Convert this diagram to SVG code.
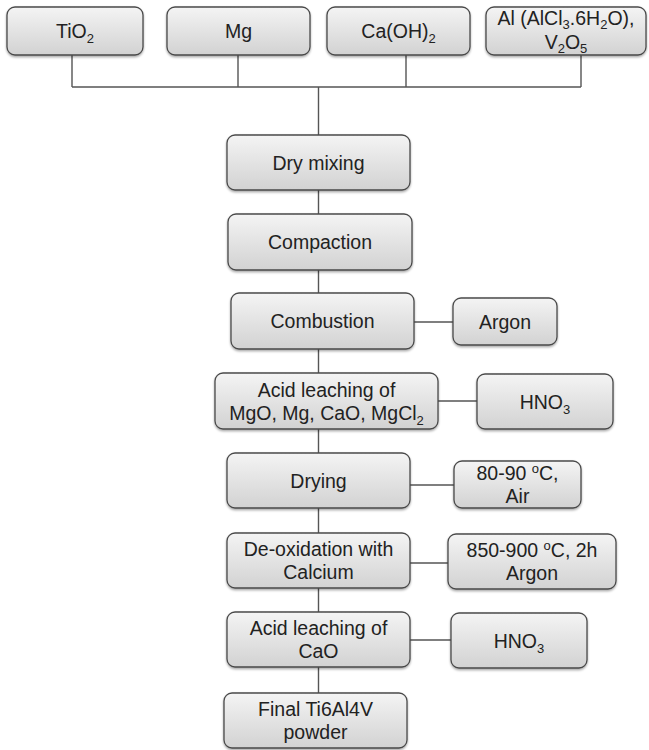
<svg xmlns="http://www.w3.org/2000/svg" width="649" height="750" viewBox="0 0 649 750">
<defs>
<linearGradient id="g" x1="0" y1="0" x2="0" y2="1">
<stop offset="0" stop-color="#f4f4f4"/>
<stop offset="1" stop-color="#d2d2d2"/>
</linearGradient>
<filter id="sh" x="-10%" y="-10%" width="120%" height="130%">
<feDropShadow dx="0" dy="1.5" stdDeviation="1.2" flood-color="#000" flood-opacity="0.35"/>
</filter>
</defs>
<style>
.box{fill:url(#g);stroke:#4a4a4a;stroke-width:1.3;filter:url(#sh)}
.t{font-family:"Liberation Sans",Arial,sans-serif;font-size:19.5px;fill:#222;text-anchor:middle}
.s{font-size:13px}
.c{stroke:#555;stroke-width:1.4;fill:none}
</style>
<rect width="649" height="750" fill="#fff"/>
<g id="connectors">
<path class="c" d="M72 55V87M238 55V87M406 55V87M581 55V87M72 87H581M318.5 87V135"/>
<path class="c" d="M318.5 190V214M318.5 270V293M318.5 349V373M318.5 429V453M318.5 508V533M318.5 588V612M318.5 667V693"/>
<path class="c" d="M414 322H453M438 401H477M410 485H454M410 563H448M410 640H451"/>
</g>
<g id="tio2"><rect class="box" x="7" y="7" width="136" height="48" rx="8"/><text class="t" x="75" y="38">TiO<tspan class="s" dy="5">2</tspan></text></g>
<g id="mg"><rect class="box" x="167" y="7" width="143" height="48" rx="8"/><text class="t" x="238.5" y="38">Mg</text></g>
<g id="caoh2"><rect class="box" x="327" y="7" width="143" height="48" rx="8"/><text class="t" x="398.5" y="38">Ca(OH)<tspan class="s" dy="5">2</tspan></text></g>
<g id="al"><rect class="box" x="486" y="7" width="160" height="48" rx="8"/><text class="t" x="566" y="25">Al (AlCl<tspan class="s" dy="3.5">3</tspan><tspan dy="-3.5">.6H</tspan><tspan class="s" dy="3.5">2</tspan><tspan dy="-3.5">O),</tspan></text><text class="t" x="566" y="48.5">V<tspan class="s" dy="4">2</tspan><tspan dy="-4">O</tspan><tspan class="s" dy="4">5</tspan></text></g>
<g id="drymix"><rect class="box" x="227" y="135" width="183" height="55" rx="8"/><text class="t" x="318.5" y="169.5">Dry mixing</text></g>
<g id="compaction"><rect class="box" x="228" y="214" width="184" height="56" rx="8"/><text class="t" x="320" y="249">Compaction</text></g>
<g id="combustion"><rect class="box" x="231" y="293" width="183" height="56" rx="8"/><text class="t" x="322.5" y="328">Combustion</text></g>
<g id="argon"><rect class="box" x="453" y="298" width="104" height="47" rx="8"/><text class="t" x="505" y="328.5">Argon</text></g>
<g id="leach1"><rect class="box" x="215" y="373" width="223" height="56" rx="8"/><text class="t" x="326.5" y="396.5">Acid leaching of</text><text class="t" x="326.5" y="419.5">MgO, Mg, CaO, MgCl<tspan class="s" dy="5">2</tspan></text></g>
<g id="hno3a"><rect class="box" x="477" y="374" width="136" height="55" rx="8"/><text class="t" x="545" y="408.5">HNO<tspan class="s" dy="5">3</tspan></text></g>
<g id="drying"><rect class="box" x="227" y="453" width="183" height="55" rx="8"/><text class="t" x="318.5" y="487.5">Drying</text></g>
<g id="temp1"><rect class="box" x="454" y="461" width="127" height="47" rx="8"/><text class="t" x="517.5" y="480">80-90 <tspan class="s" dy="-7">o</tspan><tspan dy="7">C,</tspan></text><text class="t" x="517.5" y="503">Air</text></g>
<g id="deox"><rect class="box" x="227" y="533" width="183" height="55" rx="8"/><text class="t" x="318.5" y="556">De-oxidation with</text><text class="t" x="318.5" y="579">Calcium</text></g>
<g id="temp2"><rect class="box" x="448" y="534" width="168" height="55" rx="8"/><text class="t" x="532" y="557">850-900 <tspan class="s" dy="-7">o</tspan><tspan dy="7">C, 2h</tspan></text><text class="t" x="532" y="580">Argon</text></g>
<g id="leach2"><rect class="box" x="227" y="612" width="183" height="55" rx="8"/><text class="t" x="318.5" y="635">Acid leaching of</text><text class="t" x="318.5" y="658">CaO</text></g>
<g id="hno3b"><rect class="box" x="451" y="613" width="136" height="55" rx="8"/><text class="t" x="519" y="647.5">HNO<tspan class="s" dy="5">3</tspan></text></g>
<g id="final"><rect class="box" x="224" y="693" width="183" height="55" rx="8"/><text class="t" x="315.5" y="716">Final Ti6Al4V</text><text class="t" x="315.5" y="739">powder</text></g>
</svg>
